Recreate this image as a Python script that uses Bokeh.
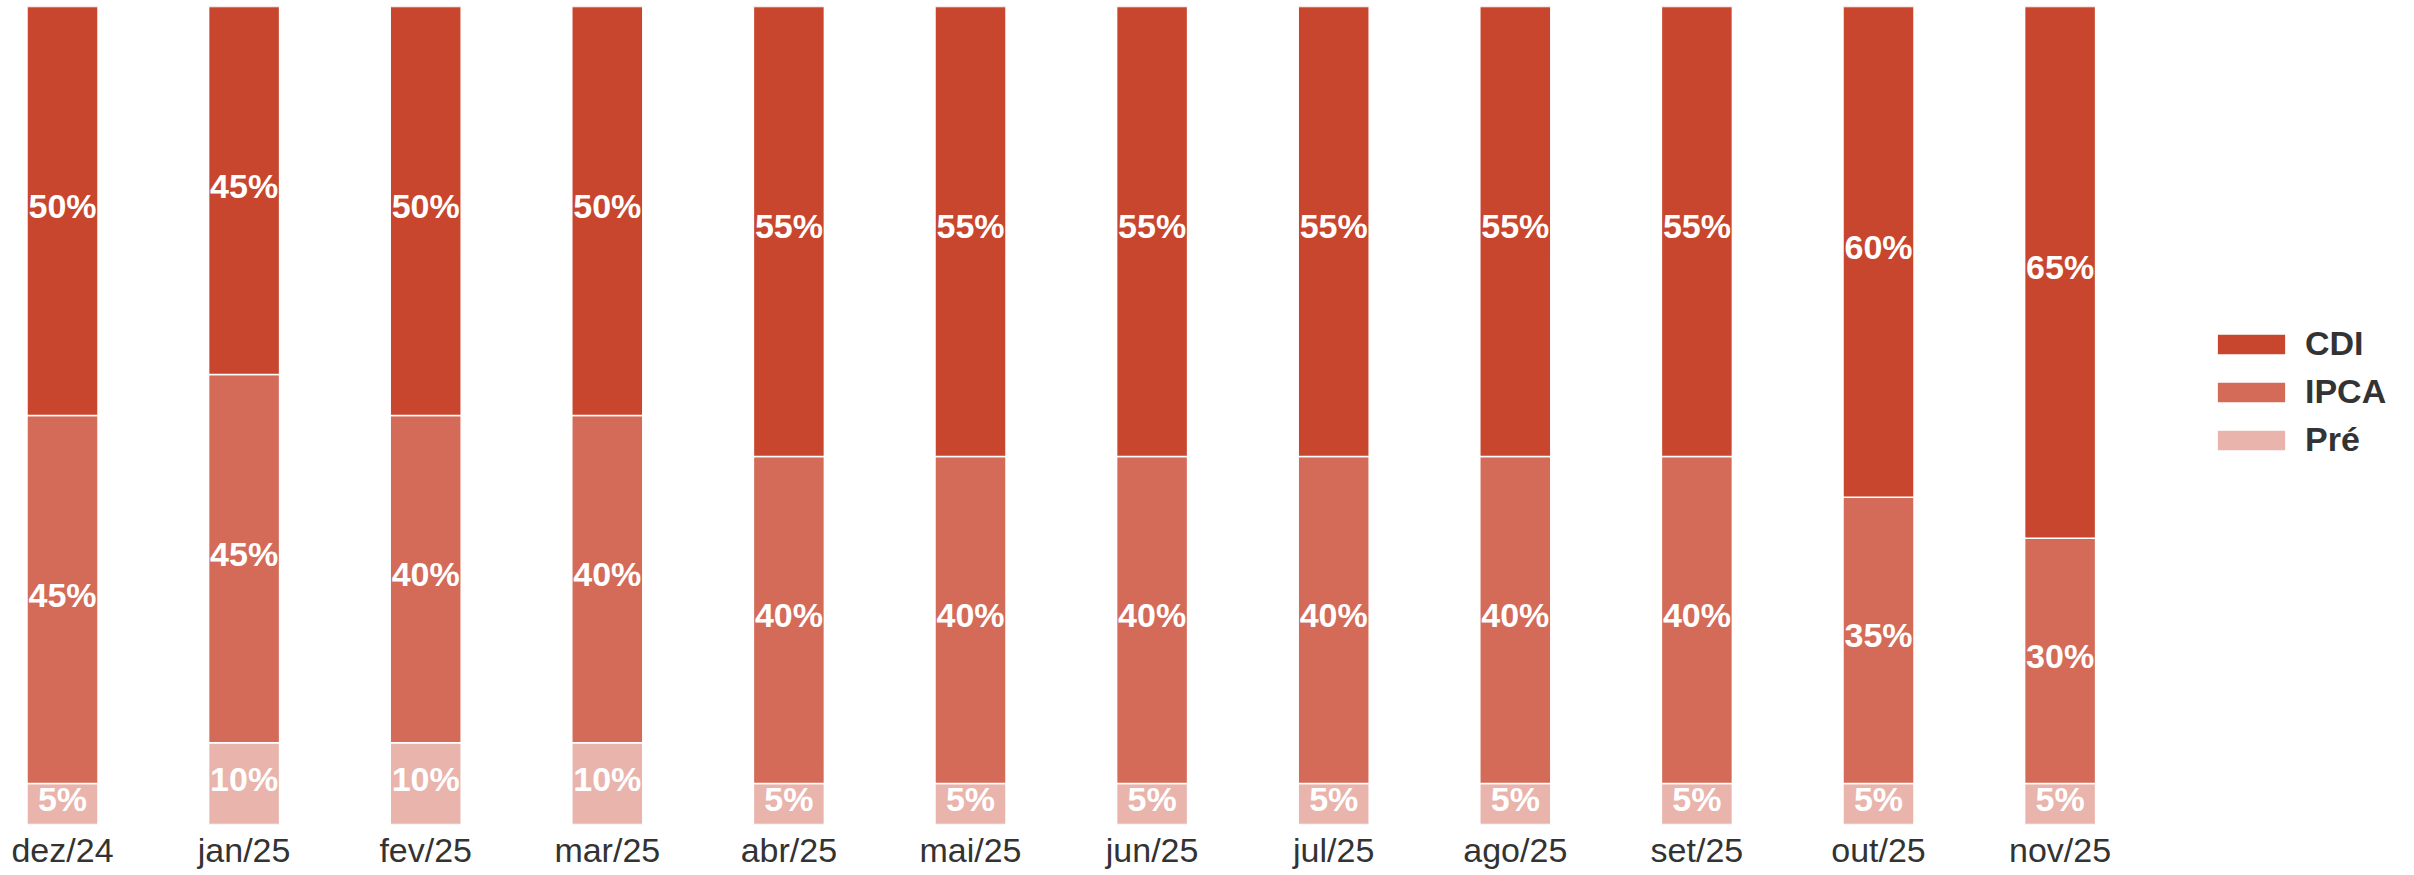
from bokeh.plotting import figure
from bokeh.models import ColumnDataSource, Range1d, Legend, LegendItem, FixedTicker, LabelSet
from bokeh.core.properties import value
from bokeh.embed import file_html
from bokeh.resources import INLINE

months = ["dez/24", "jan/25", "fev/25", "mar/25", "abr/25", "mai/25",
          "jun/25", "jul/25", "ago/25", "set/25", "out/25", "nov/25"]
pre = [5, 10, 10, 10, 5, 5, 5, 5, 5, 5, 5, 5]
ipca = [45, 45, 40, 40, 40, 40, 40, 40, 40, 40, 35, 30]
cdi = [50, 45, 50, 50, 55, 55, 55, 55, 55, 55, 60, 65]
series = ["Pré", "IPCA", "CDI"]
colors = ["#E8B4AC", "#D46B59", "#C8462E"]

x = list(range(len(months)))
b1 = pre
b2 = [a + b for a, b in zip(pre, ipca)]
b3 = [a + b for a, b in zip(b2, cdi)]

src = ColumnDataSource(dict(
    x=x, pre=pre, ipca=ipca, cdi=cdi,
    z=[0] * len(x), b1=b1, b2=b2, b3=b3,
    m1=[v / 2 for v in b1],
    m2=[a + b / 2 for a, b in zip(b1, ipca)],
    m3=[a + b / 2 for a, b in zip(b2, cdi)],
    l1=[f"{v}%" for v in pre],
    l2=[f"{v}%" for v in ipca],
    l3=[f"{v}%" for v in cdi],
))

W, H = 2400, 871
LEFT = 8
unit = 181.6
x0 = -54 / unit
p = figure(width=W, height=H, output_backend="svg", toolbar_location=None,
           x_range=Range1d(x0, x0 + (W - LEFT) / unit), y_range=Range1d(0, 100),
           min_border_left=LEFT, min_border_right=0, min_border_top=6, min_border_bottom=0)
p.outline_line_color = None
p.grid.visible = False
p.yaxis.visible = False
p.background_fill_color = "white"

bw = 71 / unit
r1 = p.vbar(x="x", bottom="z", top="b1", width=bw, source=src, fill_color=colors[0], line_color="white", line_width=1.5)
r2 = p.vbar(x="x", bottom="b1", top="b2", width=bw, source=src, fill_color=colors[1], line_color="white", line_width=1.5)
r3 = p.vbar(x="x", bottom="b2", top="b3", width=bw, source=src, fill_color=colors[2], line_color="white", line_width=1.5)

for ycol, lcol in (("m1", "l1"), ("m2", "l2"), ("m3", "l3")):
    ls = LabelSet(x="x", y=ycol, text=lcol, source=src, text_align="center", text_baseline="middle",
                  text_color="white", text_font=value("Liberation Sans"), text_font_style="bold",
                  text_font_size="34px", y_offset=5)
    p.add_layout(ls)

ax = p.xaxis[0]
ax.ticker = FixedTicker(ticks=x)
ax.major_label_overrides = {i: m for i, m in enumerate(months)}
ax.axis_line_color = None
ax.major_tick_line_color = None
ax.minor_tick_line_color = None
ax.major_tick_out = 0
ax.major_tick_in = 0
ax.major_label_standoff = 6
ax.major_label_text_font = "Liberation Sans"
ax.major_label_text_font_size = "34px"
ax.major_label_text_color = "#333333"

legend = Legend(items=[LegendItem(label="CDI", renderers=[r3]),
                       LegendItem(label="IPCA", renderers=[r2]),
                       LegendItem(label="Pré", renderers=[r1])],
                location=(2200, 365), orientation="vertical",
                glyph_width=86, glyph_height=26, label_text_font="Liberation Sans",
                label_text_font_style="bold", label_text_font_size="34px",
                label_text_color="#333333", spacing=9, padding=0, margin=0,
                label_standoff=11, border_line_color=None, background_fill_alpha=0)
p.add_layout(legend, "center")

open("out.html", "w").write(file_html(p, INLINE))
